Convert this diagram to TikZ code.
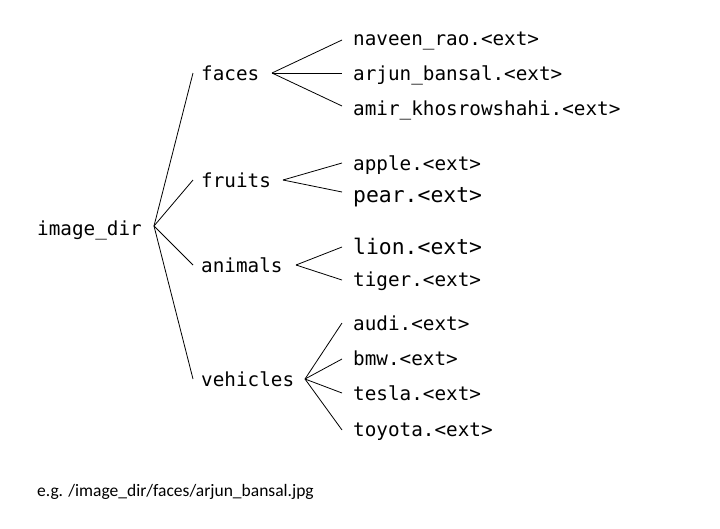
\documentclass[tikz,border=0pt]{standalone}
\usepackage{fontspec}
\setmainfont{Carlito}
\setmonofont{DejaVu Sans Mono}
\begin{document}
\begin{tikzpicture}[x=1pt,y=-1pt,
  lbl/.style={font=\fontsize{19.3}{24}\selectfont\ttfamily, anchor=west, inner sep=0pt, text height=18pt, text depth=3pt},
  big/.style={lbl, font=\fontsize{21.4}{26}\selectfont\ttfamily, text height=19pt, text depth=3pt},
  conn/.style={line width=0.8pt, black}]
\useasboundingbox (0,0) rectangle (720,528);
% nodes
\node[lbl] (root) at (37,228) {image\_dir};
\node[lbl] (faces) at (201,73) {faces};
\node[lbl] (fruits) at (201,180) {fruits};
\node[lbl] (animals) at (201,265) {animals};
\node[lbl] (vehicles) at (201,379) {vehicles};
\node[lbl] (naveen) at (353,38) {naveen\_rao.<ext>};
\node[lbl] (arjun) at (353,73) {arjun\_bansal.<ext>};
\node[lbl] (amir) at (353,108) {amir\_khosrowshahi.<ext>};
\node[lbl] (apple) at (353,163) {apple.<ext>};
\node[big] (pear) at (353,194) {pear.<ext>};
\node[big] (lion) at (353,246) {lion.<ext>};
\node[lbl] (tiger) at (353,279) {tiger.<ext>};
\node[lbl] (audi) at (353,323) {audi.<ext>};
\node[lbl] (bmw) at (353,358) {bmw.<ext>};
\node[lbl] (tesla) at (353,393) {tesla.<ext>};
\node[lbl] (toyota) at (353,429) {toyota.<ext>};
\node[font=\fontsize{17.5}{20}\selectfont, anchor=west, inner sep=0pt] (note) at (37,492) {e.g. /image\_dir/faces/arjun\_bansal.jpg};
% junction points
\coordinate (jroot) at (154,226);
\coordinate (jfaces) at (272,73);
\coordinate (jfruits) at (283,180);
\coordinate (janimals) at (296,265);
\coordinate (jvehicles) at (305,379);
% connectors from root
\draw[conn] (jroot) -- ([xshift=-8pt]faces.west);
\draw[conn] (jroot) -- ([xshift=-8pt]fruits.west);
\draw[conn] (jroot) -- ([xshift=-8pt]animals.west);
\draw[conn] (jroot) -- ([xshift=-8pt]vehicles.west);
% faces
\draw[conn] (jfaces) -- ([xshift=-11pt,yshift=-2pt]naveen.west);
\draw[conn] (jfaces) -- ([xshift=-11pt]arjun.west);
\draw[conn] (jfaces) -- ([xshift=-11pt,yshift=2pt]amir.west);
% fruits
\draw[conn] (jfruits) -- ([xshift=-11pt]apple.west);
\draw[conn] (jfruits) -- ([xshift=-11pt,yshift=2pt]pear.west);
% animals
\draw[conn] (janimals) -- ([xshift=-11pt,yshift=-1pt]lion.west);
\draw[conn] (janimals) -- ([xshift=-11pt,yshift=-1pt]tiger.west);
% vehicles
\draw[conn] (jvehicles) -- ([xshift=-11pt]audi.west);
\draw[conn] (jvehicles) -- ([xshift=-11pt,yshift=-1pt]bmw.west);
\draw[conn] (jvehicles) -- ([xshift=-11pt]tesla.west);
\draw[conn] (jvehicles) -- ([xshift=-11pt,yshift=-1pt]toyota.west);
\end{tikzpicture}
\end{document}
